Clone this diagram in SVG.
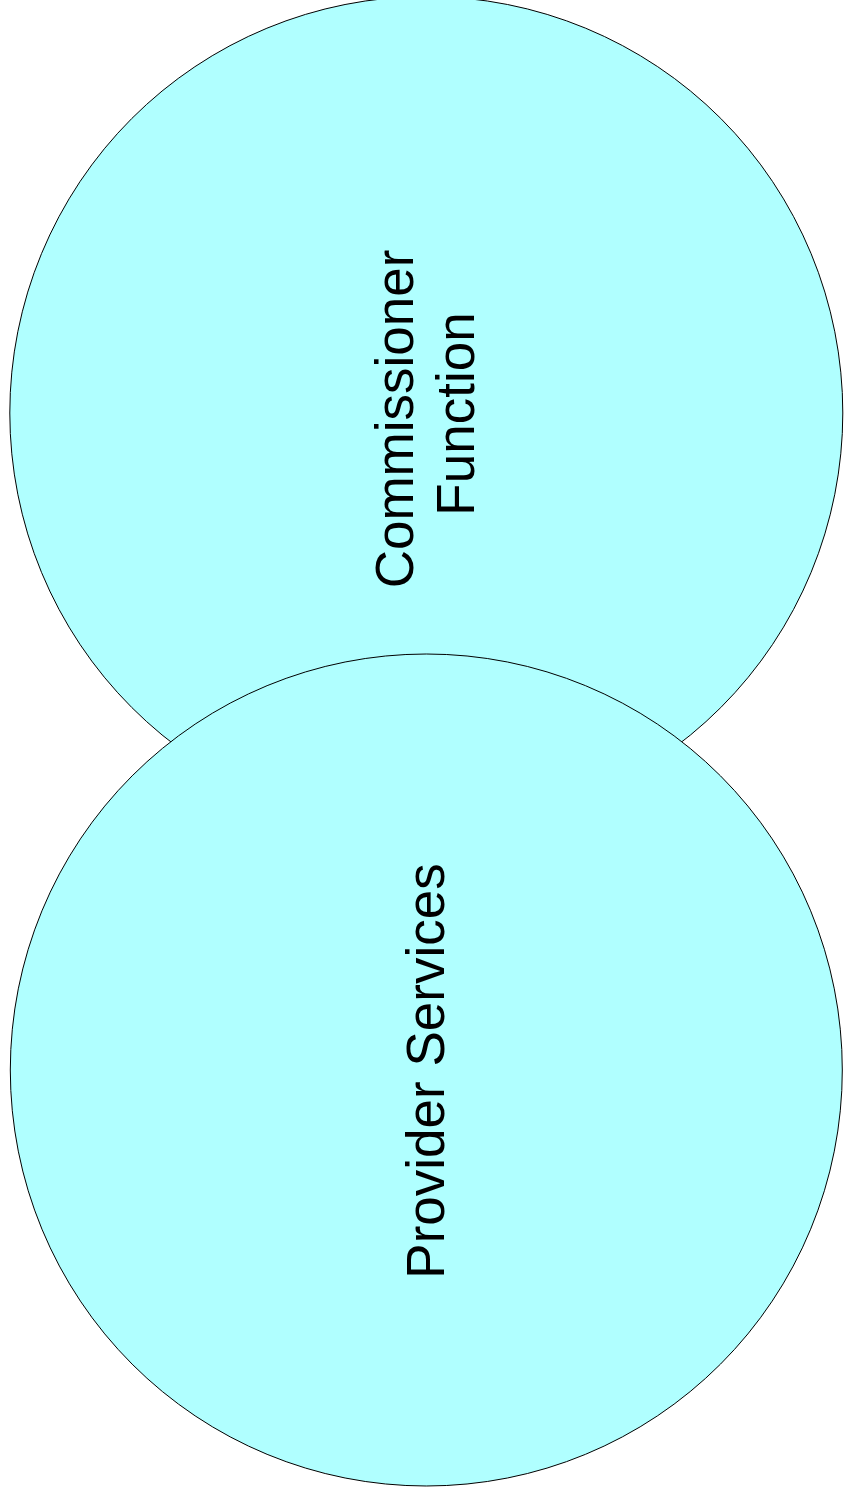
<svg xmlns="http://www.w3.org/2000/svg" width="852" height="1493" viewBox="0 0 852 1493">
<style>
.c{fill:#b0ffff;stroke:#000;stroke-width:1}
.t{font-family:"Liberation Sans",Arial,sans-serif;font-size:53px;fill:#000;text-anchor:middle}
</style>
<rect width="852" height="1493" fill="#fff"/>
<g id="commissioner">
<circle class="c" cx="426.3" cy="413" r="416.5"/>
<text class="t" transform="translate(412.5,419) rotate(-90)">Commissioner</text>
<text class="t" transform="translate(473.5,414) rotate(-90)">Function</text>
</g>
<g id="provider">
<circle class="c" cx="426.3" cy="1070" r="416"/>
<text class="t" transform="translate(443.5,1071) rotate(-90)">Provider Services</text>
</g>
<g id="connectors"></g>
</svg>
